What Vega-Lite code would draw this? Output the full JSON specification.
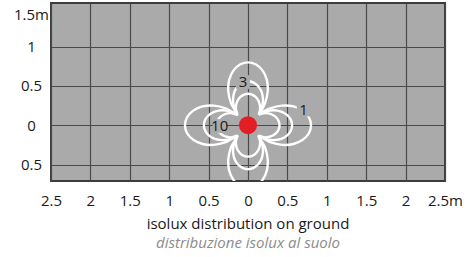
{
  "$schema": "https://vega.github.io/schema/vega-lite/v6.json",
  "width": 394,
  "height": 178,
  "autosize": {"type": "none"},
  "padding": {"left": 51, "top": 3, "right": 22, "bottom": 76},
  "background": "white",
  "config": {
    "view": {"fill": "#aaaaaa", "stroke": "#3c3c3c", "strokeWidth": 2},
    "font": "Open Sans"
  },
  "title": {
    "text": "isolux distribution on ground",
    "subtitle": "distribuzione isolux al suolo",
    "orient": "bottom",
    "anchor": "middle",
    "font": "Open Sans",
    "fontSize": 15,
    "fontWeight": "normal",
    "color": "#1a1a1a",
    "subtitleFont": "Open Sans",
    "subtitleFontSize": 15,
    "subtitleFontStyle": "italic",
    "subtitleColor": "#8c8c8c",
    "offset": 9,
    "subtitlePadding": 4
  },
  "datasets": {
    "iso": [
      {"c":"A","i":0,"x":0.148,"y":0.148},{"c":"A","i":1,"x":0.216,"y":0.282},{"c":"A","i":2,"x":0.250,"y":0.433},{"c":"A","i":3,"x":0.239,"y":0.577},{"c":"A","i":4,"x":0.186,"y":0.695},{"c":"A","i":5,"x":0.102,"y":0.773},{"c":"A","i":6,"x":0.0,"y":0.800},
      {"c":"A","i":7,"x":-0.102,"y":0.773},{"c":"A","i":8,"x":-0.186,"y":0.695},{"c":"A","i":9,"x":-0.239,"y":0.577},{"c":"A","i":10,"x":-0.250,"y":0.433},{"c":"A","i":11,"x":-0.216,"y":0.282},{"c":"A","i":12,"x":-0.148,"y":0.148},
      {"c":"A","i":13,"x":-0.282,"y":0.216},{"c":"A","i":14,"x":-0.433,"y":0.250},{"c":"A","i":15,"x":-0.577,"y":0.239},{"c":"A","i":16,"x":-0.695,"y":0.186},{"c":"A","i":17,"x":-0.773,"y":0.102},{"c":"A","i":18,"x":-0.800,"y":0.0},
      {"c":"A","i":19,"x":-0.773,"y":-0.102},{"c":"A","i":20,"x":-0.695,"y":-0.186},{"c":"A","i":21,"x":-0.577,"y":-0.239},{"c":"A","i":22,"x":-0.433,"y":-0.250},{"c":"A","i":23,"x":-0.282,"y":-0.216},{"c":"A","i":24,"x":-0.148,"y":-0.148},
      {"c":"A","i":25,"x":-0.216,"y":-0.282},{"c":"A","i":26,"x":-0.250,"y":-0.433},{"c":"A","i":27,"x":-0.239,"y":-0.577},{"c":"A","i":28,"x":-0.186,"y":-0.695},{"c":"A","i":29,"x":-0.102,"y":-0.773},{"c":"A","i":30,"x":0.0,"y":-0.800},
      {"c":"A","i":31,"x":0.102,"y":-0.773},{"c":"A","i":32,"x":0.186,"y":-0.695},{"c":"A","i":33,"x":0.239,"y":-0.577},{"c":"A","i":34,"x":0.250,"y":-0.433},{"c":"A","i":35,"x":0.216,"y":-0.282},{"c":"A","i":36,"x":0.148,"y":-0.148},
      {"c":"A","i":37,"x":0.282,"y":-0.216},{"c":"A","i":38,"x":0.433,"y":-0.250},{"c":"A","i":39,"x":0.577,"y":-0.239},{"c":"A","i":40,"x":0.695,"y":-0.186},{"c":"A","i":41,"x":0.773,"y":-0.102},{"c":"A","i":42,"x":0.800,"y":0.0},
      {"c":"A","i":43,"x":0.773,"y":0.102},{"c":"A","i":44,"x":0.695,"y":0.186},{"c":"A","i":45,"x":0.577,"y":0.239},{"c":"A","i":46,"x":0.433,"y":0.250},{"c":"A","i":47,"x":0.282,"y":0.216},{"c":"A","i":48,"x":0.148,"y":0.148},

      {"c":"B","i":0,"x":0.141,"y":0.141},{"c":"B","i":1,"x":0.178,"y":0.233},{"c":"B","i":2,"x":0.190,"y":0.329},{"c":"B","i":3,"x":0.174,"y":0.420},{"c":"B","i":4,"x":0.132,"y":0.494},{"c":"B","i":5,"x":0.071,"y":0.543},{"c":"B","i":6,"x":0.0,"y":0.560},
      {"c":"B","i":7,"x":-0.071,"y":0.543},{"c":"B","i":8,"x":-0.132,"y":0.494},{"c":"B","i":9,"x":-0.174,"y":0.420},{"c":"B","i":10,"x":-0.190,"y":0.329},{"c":"B","i":11,"x":-0.178,"y":0.233},{"c":"B","i":12,"x":-0.141,"y":0.141},
      {"c":"B","i":13,"x":-0.233,"y":0.178},{"c":"B","i":14,"x":-0.329,"y":0.190},{"c":"B","i":15,"x":-0.420,"y":0.174},{"c":"B","i":16,"x":-0.494,"y":0.132},{"c":"B","i":17,"x":-0.543,"y":0.071},{"c":"B","i":18,"x":-0.560,"y":0.0},
      {"c":"B","i":19,"x":-0.543,"y":-0.071},{"c":"B","i":20,"x":-0.494,"y":-0.132},{"c":"B","i":21,"x":-0.420,"y":-0.174},{"c":"B","i":22,"x":-0.329,"y":-0.190},{"c":"B","i":23,"x":-0.233,"y":-0.178},{"c":"B","i":24,"x":-0.141,"y":-0.141},
      {"c":"B","i":25,"x":-0.178,"y":-0.233},{"c":"B","i":26,"x":-0.190,"y":-0.329},{"c":"B","i":27,"x":-0.174,"y":-0.420},{"c":"B","i":28,"x":-0.132,"y":-0.494},{"c":"B","i":29,"x":-0.071,"y":-0.543},{"c":"B","i":30,"x":0.0,"y":-0.560},
      {"c":"B","i":31,"x":0.071,"y":-0.543},{"c":"B","i":32,"x":0.132,"y":-0.494},{"c":"B","i":33,"x":0.174,"y":-0.420},{"c":"B","i":34,"x":0.190,"y":-0.329},{"c":"B","i":35,"x":0.178,"y":-0.233},{"c":"B","i":36,"x":0.141,"y":-0.141},
      {"c":"B","i":37,"x":0.233,"y":-0.178},{"c":"B","i":38,"x":0.329,"y":-0.190},{"c":"B","i":39,"x":0.420,"y":-0.174},{"c":"B","i":40,"x":0.494,"y":-0.132},{"c":"B","i":41,"x":0.543,"y":-0.071},{"c":"B","i":42,"x":0.560,"y":0.0},
      {"c":"B","i":43,"x":0.543,"y":0.071},{"c":"B","i":44,"x":0.494,"y":0.132},{"c":"B","i":45,"x":0.420,"y":0.174},{"c":"B","i":46,"x":0.329,"y":0.190},{"c":"B","i":47,"x":0.233,"y":0.178},{"c":"B","i":48,"x":0.141,"y":0.141},

      {"c":"C","i":0,"x":0.134,"y":0.134},{"c":"C","i":1,"x":0.153,"y":0.200},{"c":"C","i":2,"x":0.150,"y":0.260},{"c":"C","i":3,"x":0.131,"y":0.315},{"c":"C","i":4,"x":0.097,"y":0.360},{"c":"C","i":5,"x":0.051,"y":0.390},{"c":"C","i":6,"x":0.0,"y":0.400},
      {"c":"C","i":7,"x":-0.051,"y":0.390},{"c":"C","i":8,"x":-0.097,"y":0.360},{"c":"C","i":9,"x":-0.131,"y":0.315},{"c":"C","i":10,"x":-0.150,"y":0.260},{"c":"C","i":11,"x":-0.153,"y":0.200},{"c":"C","i":12,"x":-0.134,"y":0.134},
      {"c":"C","i":13,"x":-0.200,"y":0.153},{"c":"C","i":14,"x":-0.260,"y":0.150},{"c":"C","i":15,"x":-0.315,"y":0.131},{"c":"C","i":16,"x":-0.360,"y":0.097},{"c":"C","i":17,"x":-0.390,"y":0.051},{"c":"C","i":18,"x":-0.400,"y":0.0},
      {"c":"C","i":19,"x":-0.390,"y":-0.051},{"c":"C","i":20,"x":-0.360,"y":-0.097},{"c":"C","i":21,"x":-0.315,"y":-0.131},{"c":"C","i":22,"x":-0.260,"y":-0.150},{"c":"C","i":23,"x":-0.200,"y":-0.153},{"c":"C","i":24,"x":-0.134,"y":-0.134},
      {"c":"C","i":25,"x":-0.153,"y":-0.200},{"c":"C","i":26,"x":-0.150,"y":-0.260},{"c":"C","i":27,"x":-0.131,"y":-0.315},{"c":"C","i":28,"x":-0.097,"y":-0.360},{"c":"C","i":29,"x":-0.051,"y":-0.390},{"c":"C","i":30,"x":0.0,"y":-0.400},
      {"c":"C","i":31,"x":0.051,"y":-0.390},{"c":"C","i":32,"x":0.097,"y":-0.360},{"c":"C","i":33,"x":0.131,"y":-0.315},{"c":"C","i":34,"x":0.150,"y":-0.260},{"c":"C","i":35,"x":0.153,"y":-0.200},{"c":"C","i":36,"x":0.134,"y":-0.134},
      {"c":"C","i":37,"x":0.200,"y":-0.153},{"c":"C","i":38,"x":0.260,"y":-0.150},{"c":"C","i":39,"x":0.315,"y":-0.131},{"c":"C","i":40,"x":0.360,"y":-0.097},{"c":"C","i":41,"x":0.390,"y":-0.051},{"c":"C","i":42,"x":0.400,"y":0.0},
      {"c":"C","i":43,"x":0.390,"y":0.051},{"c":"C","i":44,"x":0.360,"y":0.097},{"c":"C","i":45,"x":0.315,"y":0.131},{"c":"C","i":46,"x":0.260,"y":0.150},{"c":"C","i":47,"x":0.200,"y":0.153},{"c":"C","i":48,"x":0.134,"y":0.134}
    ],
    "labels": [
      {"x": 0.706, "y": 0.20, "t": "1"},
      {"x": -0.063, "y": 0.55, "t": "3"},
      {"x": -0.36, "y": -0.01, "t": "10"}
    ],
    "dot": [{"x": 0, "y": 0}]
  },
  "encoding": {
    "x": {
      "field": "x", "type": "quantitative",
      "scale": {"domain": [-2.5, 2.5], "nice": false, "zero": false},
      "axis": {
        "values": [-2.5, -2, -1.5, -1, -0.5, 0, 0.5, 1, 1.5, 2, 2.5],
        "labelExpr": "abs(datum.value) + (datum.value == 2.5 ? 'm' : '')",
        "title": null, "ticks": false, "domain": false,
        "grid": true, "gridColor": "#4a4a4a", "gridWidth": 1.2, "gridOpacity": 1,
        "labelFont": "Open Sans", "labelFontSize": 15, "labelColor": "#1a1a1a",
        "labelPadding": 12, "labelFlush": false, "labelOverlap": false
      }
    },
    "y": {
      "field": "y", "type": "quantitative",
      "scale": {"domain": [-0.71, 1.556], "nice": false, "zero": false},
      "axis": {
        "values": [-0.5, 0, 0.5, 1, 1.5],
        "labelExpr": "abs(datum.value) + (datum.value == 1.5 ? 'm' : '')",
        "title": null, "ticks": false, "domain": false,
        "grid": true, "gridColor": "#4a4a4a", "gridWidth": 1.2,
        "gridOpacity": {"condition": {"test": "datum.value == 1.5", "value": 0}, "value": 1},
        "labelBaseline": {"condition": {"test": "datum.value == 1.5", "value": "top"}, "value": "middle"},
        "labelAlign": "center",
        "labelFont": "Open Sans", "labelFontSize": 15, "labelColor": "#1a1a1a",
        "labelPadding": 20, "labelFlush": false, "labelOverlap": false
      }
    }
  },
  "layer": [
    {
      "data": {"name": "iso"},
      "mark": {"type": "line", "color": "white", "strokeWidth": 2.4, "interpolate": "catmull-rom", "clip": true},
      "encoding": {
        "detail": {"field": "c", "type": "nominal"},
        "order": {"field": "i", "type": "quantitative"}
      }
    },
    {
      "data": {"name": "labels"},
      "mark": {"type": "point", "shape": "square", "filled": true, "color": "#aaaaaa", "opacity": 1, "size": 190, "strokeWidth": 0}
    },
    {
      "data": {"name": "labels"},
      "mark": {"type": "text", "font": "Open Sans", "fontSize": 15, "color": "#1a1a1a", "align": "center", "baseline": "middle"},
      "encoding": {"text": {"field": "t", "type": "nominal"}}
    },
    {
      "data": {"name": "dot"},
      "mark": {"type": "point", "shape": "circle", "filled": true, "color": "#e31e24", "opacity": 1, "size": 324, "strokeWidth": 0}
    }
  ]
}
